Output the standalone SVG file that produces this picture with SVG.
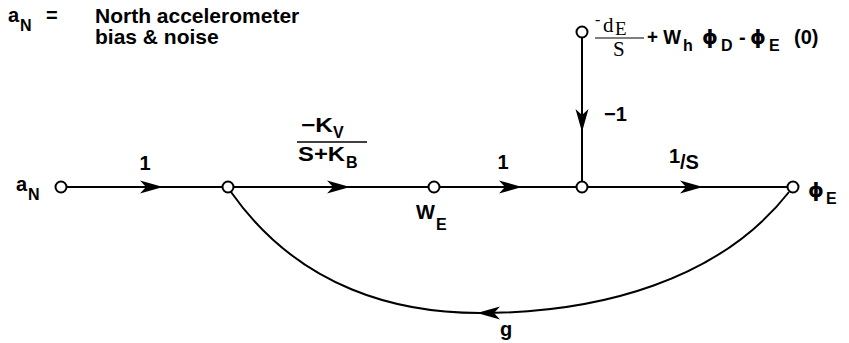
<svg xmlns="http://www.w3.org/2000/svg" xmlns:xlink="http://www.w3.org/1999/xlink" width="849" height="343" viewBox="0 0 849 343">
<style>
.b{font-family:"Liberation Sans",Arial,sans-serif;font-weight:bold;fill:#000}
.h{font-size:21px}
.l{font-size:20px}
.s{font-size:16px}
.g{font-family:"DejaVu Sans",sans-serif;font-weight:bold;font-size:20px}
.r{font-family:"Liberation Serif","Times New Roman",serif;fill:#000}
.e{fill:none;stroke:#000;stroke-width:2}
.n{fill:#fff;stroke:#000;stroke-width:2}
.ah{fill:#000}
</style>
<defs>
<path id="ah" d="M-23,-6.5 L0,0 L-23,6.5 L-17,0 Z"/>
</defs>
<rect width="849" height="343" fill="#fff"/>
<g id="legend">
<text class="b l" x="8" y="22">a</text><text class="b s" x="20" y="31">N</text>
<text class="b l" x="46" y="22">=</text>
<text class="b h" x="95" y="23">North accelerometer</text>
<text class="b h" x="95" y="44">bias &amp; noise</text>
</g>
<g id="connectors">
<line class="e" x1="66" y1="187" x2="223" y2="187"/>
<line class="e" x1="233" y1="187" x2="429" y2="187"/>
<line class="e" x1="439" y1="187" x2="577" y2="187"/>
<line class="e" x1="587" y1="187" x2="788" y2="187"/>
<line class="e" x1="582" y1="37" x2="582" y2="182"/>
<path class="e" d="M231,192 C300,290 400,313 480,313 C600,313 720,280 789,192"/>
<use href="#ah" class="ah" x="163" y="187"/>
<use href="#ah" class="ah" x="350" y="187"/>
<use href="#ah" class="ah" x="522" y="187"/>
<use href="#ah" class="ah" x="703" y="187"/>
<use href="#ah" class="ah" transform="translate(582,132) rotate(90)"/>
<use href="#ah" class="ah" transform="translate(477,313) rotate(180)"/>
</g>
<g id="labels">
<text class="b l" x="145" y="170" text-anchor="middle">1</text>
<text class="b l" x="503" y="169" text-anchor="middle">1</text>
<text class="b l" x="669" y="163">1</text><text class="b l" x="680" y="169">/S</text>
<text class="b l" x="301" y="132" textLength="32" lengthAdjust="spacingAndGlyphs">−K</text><text class="b s" x="333" y="138">V</text>
<line x1="297" y1="142" x2="367" y2="142" stroke="#000" stroke-width="1.5"/>
<text class="b l" x="298" y="161" textLength="47" lengthAdjust="spacingAndGlyphs">S+K</text><text class="b s" x="346" y="168">B</text>
<text class="b l" x="604" y="121">−1</text>
<text class="b l" x="500" y="336">g</text>
</g>
<g id="n_aN">
<circle class="n" cx="61" cy="187" r="5.5"/>
<text class="b l" x="16" y="191">a</text><text class="b s" x="28" y="200">N</text>
</g>
<g id="n_2"><circle class="n" cx="228" cy="187" r="5.5"/></g>
<g id="n_WE">
<circle class="n" cx="434" cy="187" r="5.5"/>
<text class="b l" x="416" y="219">W</text><text class="b s" x="436" y="230">E</text>
</g>
<g id="n_4"><circle class="n" cx="582" cy="187" r="5.5"/></g>
<g id="n_phiE">
<circle class="n" cx="793" cy="187" r="5.5"/>
<text class="g" x="808" y="197">ϕ</text><text class="b s" x="826" y="204">E</text>
</g>
<g id="n_top">
<circle class="n" cx="582" cy="32" r="5.5"/>
<text class="r" font-size="16" x="595" y="25">-</text>
<text class="r" font-size="21" x="603" y="32">d</text><text class="r" font-size="19" x="615" y="35">E</text>
<line x1="595" y1="38" x2="644" y2="38" stroke="#000" stroke-width="1.2"/>
<text class="r" font-size="21" x="613" y="56">S</text>
<text class="b l" x="647" y="44" textLength="34" lengthAdjust="spacingAndGlyphs">+ W</text><text class="b s" x="683" y="51">h</text>
<text class="g" x="702" y="44">ϕ</text><text class="b s" x="721" y="51">D</text>
<text class="b l" x="739" y="44">-</text>
<text class="g" x="750" y="44">ϕ</text><text class="b s" x="769" y="51">E</text>
<text class="b l" font-size="21" x="794" y="44">(0)</text>
</g>
</svg>
